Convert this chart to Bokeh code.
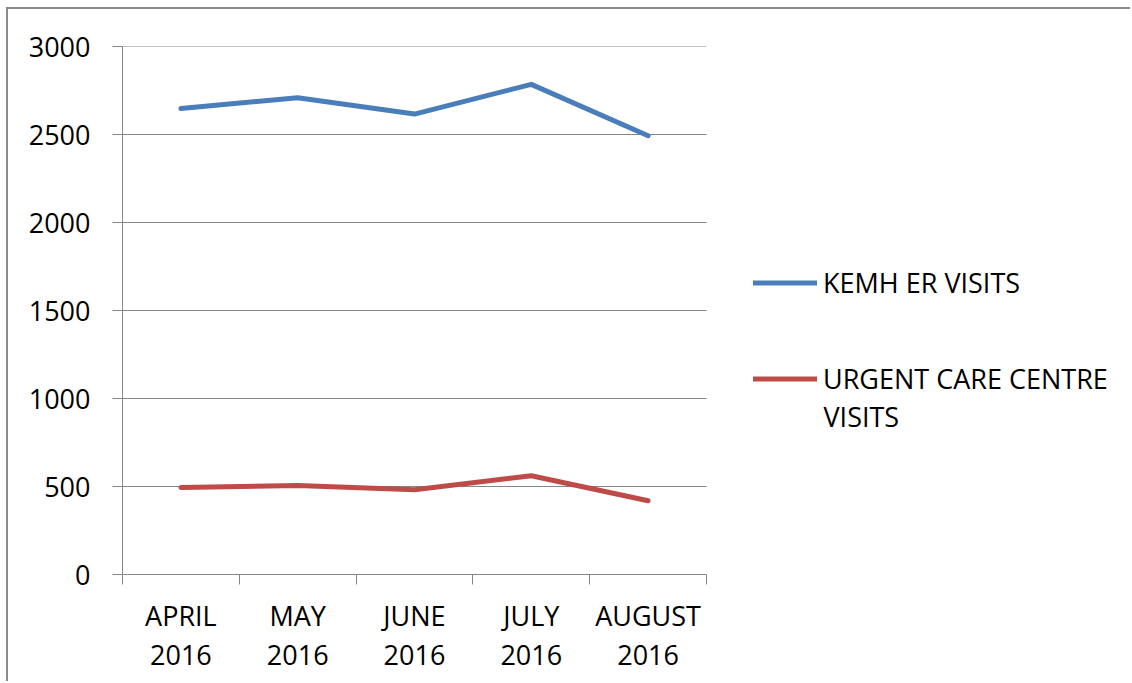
from bokeh.plotting import figure
from bokeh.models import Range1d, FixedTicker, Legend, LegendItem, Label
from bokeh.embed import file_html
from bokeh.resources import INLINE

months = ["APRIL\n2016", "MAY\n2016", "JUNE\n2016", "JULY\n2016", "AUGUST\n2016"]
kemh_er = [2648, 2709, 2616, 2785, 2493]
urgent_care = [494, 506, 481, 561, 419]
y_ticks = [0, 500, 1000, 1500, 2000, 2500, 3000]
series_names = ["KEMH ER VISITS", "URGENT CARE CENTRE", "VISITS"]

FONT = "Open Sans"
FS = "27px"
GRAY = "#868686"

W, H = 1124, 674
LEFT, TOP, BOTTOM = 114, 37, 109
PLOT_W = 584  # width of the category area

n = len(months)
xs = [i + 0.5 for i in range(n)]
bounds = [i for i in range(n + 1)]
x_end = n * (W - LEFT) / PLOT_W

p = figure(width=W, height=H, output_backend="svg", toolbar_location=None,
           x_range=Range1d(0, x_end), y_range=Range1d(0, y_ticks[-1]),
           min_border_left=LEFT, min_border_right=0, min_border_top=TOP,
           min_border_bottom=BOTTOM)
p.styles = {"margin-left": "8px", "margin-top": "9px",
            "box-shadow": "-2px -2px 0 0 #8c8c8c"}
p.outline_line_color = None
p.xgrid.visible = False
p.ygrid.visible = False

# horizontal gridlines limited to the category area
gy = y_ticks[1:]
p.segment(x0=[0] * len(gy), x1=[n] * len(gy), y0=gy, y1=gy,
          line_color=GRAY, line_width=1)

xa = p.xaxis[0]
xa.bounds = (0, n)
xa.ticker = FixedTicker(ticks=xs, minor_ticks=bounds)
xa.major_label_overrides = {x: m for x, m in zip(xs, months)}
xa.major_tick_line_color = None
xa.major_tick_out = 0
xa.major_tick_in = 0
xa.minor_tick_line_color = GRAY
xa.minor_tick_out = 10
xa.minor_tick_in = 0
xa.axis_line_color = GRAY
xa.major_label_standoff = 12
xa.major_label_text_line_height = 1.06
xa.major_label_text_font = FONT
xa.major_label_text_font_size = FS
xa.major_label_text_color = "#000000"

ya = p.yaxis[0]
ya.ticker = FixedTicker(ticks=y_ticks)
ya.major_tick_line_color = GRAY
ya.major_tick_out = 10
ya.major_tick_in = 0
ya.minor_tick_line_color = None
ya.axis_line_color = GRAY
ya.major_label_standoff = 22
ya.major_label_text_font = FONT
ya.major_label_text_font_size = FS
ya.major_label_text_color = "#000000"

r1 = p.line(xs, kemh_er, line_color="#4A7EBB", line_width=5, line_cap="round", line_join="round")
r2 = p.line(xs, urgent_care, line_color="#BE4B48", line_width=5, line_cap="round", line_join="round")

legend = Legend(items=[LegendItem(label=series_names[0], renderers=[r1]),
                       LegendItem(label=series_names[1], renderers=[r2])],
                location=(631, 177), padding=0, margin=0, spacing=59,
                glyph_width=64, glyph_height=37, label_standoff=6,
                label_text_font=FONT, label_text_font_size=FS,
                label_text_color="#000000",
                border_line_color=None, background_fill_alpha=0)
p.add_layout(legend, "center")

cont = Label(x=701, y=158, x_units="screen", y_units="screen", text=series_names[2],
             text_font=FONT, text_font_size=FS, text_color="#000000",
             text_baseline="middle", text_align="left")
p.add_layout(cont)

open("out.html", "w").write(file_html(p, INLINE))
